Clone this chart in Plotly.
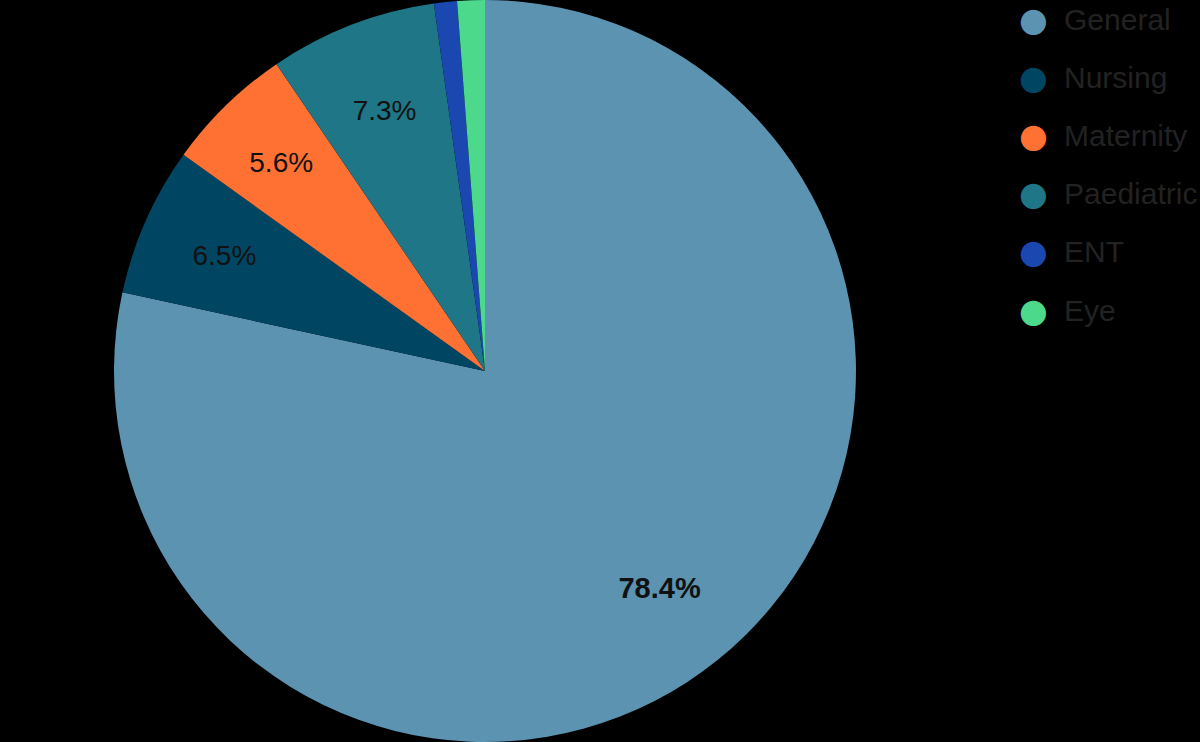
import plotly.graph_objects as go

categories = ["General", "Nursing", "Maternity", "Paediatric", "ENT", "Eye"]
values = [78.4, 6.5, 5.6, 7.3, 1.0, 1.2]
colors = ["#5B93B0", "#004663", "#FF7133", "#1E7686", "#1A47B0", "#4CD98C"]

vmax = max(values)
text_big = [f"<b>{v:.1f}%</b>" if v == vmax else "" for v in values]
text_small = [f"{v:.1f}%" if (2 <= v < vmax) else "" for v in values]

W, H = 1200, 742
cx, cy, R = 485, 371, 371


def dom(r):
    return dict(x=[(cx - r) / W, (cx + r) / W], y=[(cy - r) / H, (cy + r) / H])


common = dict(labels=categories, values=values, sort=False,
              direction="clockwise", rotation=0, showlegend=False)
clear = dict(colors=["rgba(0,0,0,0)"] * len(values), line=dict(width=0))
font = dict(family="Liberation Sans, Arial, sans-serif", color="#111111")

fig = go.Figure()
fig.add_trace(go.Pie(
    **common, textinfo="none",
    marker=dict(colors=colors, line=dict(width=0)),
    domain=dom(R), hoverinfo="label+percent",
))
# transparent rings carrying the labels
fig.add_trace(go.Pie(
    **common, text=text_big, textinfo="text", textposition="inside",
    insidetextorientation="horizontal", hole=0.5, marker=clear,
    textfont=dict(size=29, **font), domain=dom(R), hoverinfo="skip",
))
fig.add_trace(go.Pie(
    **common, text=text_small, textinfo="text", textposition="inside",
    insidetextorientation="horizontal", hole=0.5, marker=clear,
    textfont=dict(size=28, **font), domain=dom(343), hoverinfo="skip",
))

# custom legend with circle symbols
for i, (cat, col) in enumerate(zip(categories, colors)):
    yc = 19 + i * 58.2
    fig.add_annotation(
        x=1033, y=H - yc, xref="x", yref="y",
        text="\u25CF", showarrow=False,
        font=dict(size=33, color=col, family="DejaVu Sans"),
        xanchor="center", yanchor="middle",
    )
    fig.add_annotation(
        x=1062, y=H - yc, xref="x", yref="y",
        text=cat, showarrow=False,
        font=dict(size=30, color="#222222", family="Liberation Sans, Arial, sans-serif"),
        xanchor="left", yanchor="middle",
    )

fig.update_xaxes(range=[0, W], visible=False, fixedrange=True)
fig.update_yaxes(range=[0, H], visible=False, fixedrange=True)
fig.update_layout(
    width=W, height=H,
    margin=dict(l=0, r=0, t=0, b=0),
    paper_bgcolor="#000000",
    plot_bgcolor="rgba(0,0,0,0)",
    showlegend=False,
)

fig.write_html(
    "out.html",
    config={"displayModeBar": False},
    post_script="document.body.style.margin='0';document.body.style.background='#000';",
)
